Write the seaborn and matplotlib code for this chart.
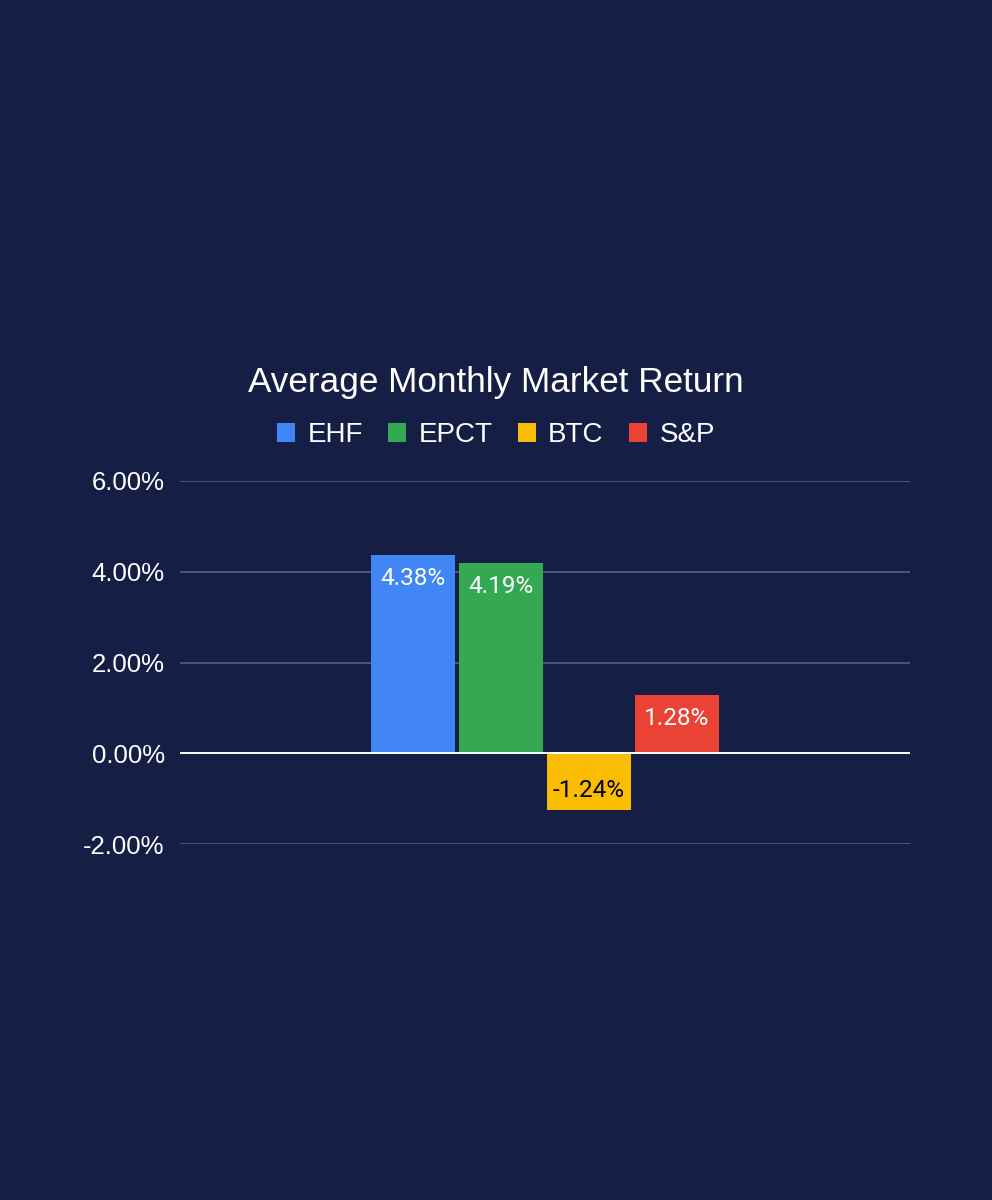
import matplotlib
matplotlib.use("Agg")
import matplotlib.pyplot as plt
import seaborn as sns
import pandas as pd

# data
series = ["EHF", "EPCT", "BTC", "S&P"]
returns = [4.38, 4.19, -1.24, 1.28]
colors = ["#4285F4", "#34A853", "#FBBC04", "#EA4335"]
label_colors = ["white", "white", "black", "white"]
yticks = [-2, 0, 2, 4, 6]

bg = "#151f45"
grid = "#5b6485"

sns.set_theme(style="dark")
plt.rcParams["font.family"] = ["Liberation Sans", "DejaVu Sans"]

df = pd.DataFrame({"series": series, "ret": returns})

fig = plt.figure(figsize=(9.92, 12), dpi=100, facecolor=bg)
ax = fig.add_axes([180 / 992, 1 - 844 / 1200, 730 / 992, 363 / 1200])
ax.set_facecolor(bg)

sns.barplot(data=df, x="series", y="ret", hue="series", order=series,
            hue_order=series, palette=colors, width=0.955, dodge=False,
            saturation=1, legend=True, linewidth=0, edgecolor="none",
            ax=ax, zorder=3)

ax.set_xlim(-2.648, 5.648)
ax.set_ylim(-2, 6)
ax.set_yticks(yticks)
ax.set_yticklabels(["{:.2f}%".format(v) for v in yticks])
ax.set_xticks([])
ax.set_xlabel("")
ax.set_ylabel("")
ax.tick_params(axis="y", length=0, pad=11, labelsize=18.5, labelcolor="white")
for s in ax.spines.values():
    s.set_visible(False)

for v in yticks:
    if v == 0:
        continue
    ax.axhline(v, color=grid, lw=1.1, zorder=1)
ax.axhline(0, color="white", lw=1.4, zorder=4)

# value labels inside the bar ends
for bar, val, c in zip(ax.patches, returns, label_colors):
    cx = bar.get_x() + bar.get_width() / 2
    off = -17 if val > 0 else 14
    ax.annotate("{:.2f}%".format(val), xy=(cx, val), xytext=(0, off),
                textcoords="offset points", ha="center", va="center",
                color=c, fontsize=17.5, family=["Roboto", "DejaVu Sans"], zorder=5)

fig.text(0.5, 1 - 383 / 1200, "Average Monthly Market Return", ha="center",
         va="center", color="white", fontsize=25.3)

sns.move_legend(ax, "center", bbox_to_anchor=(0.5, 1 - 435 / 1200),
                bbox_transform=fig.transFigure, ncol=4, frameon=False,
                title=None, fontsize=20, handlelength=0.65, handleheight=0.65,
                handletextpad=0.45, columnspacing=0.9)
leg = ax.get_legend()
for t in leg.get_texts():
    t.set_color("white")
for h in leg.legend_handles:
    h.set_edgecolor("none")
    h.set_linewidth(0)

fig.savefig("out.png", dpi=100, facecolor=bg)
